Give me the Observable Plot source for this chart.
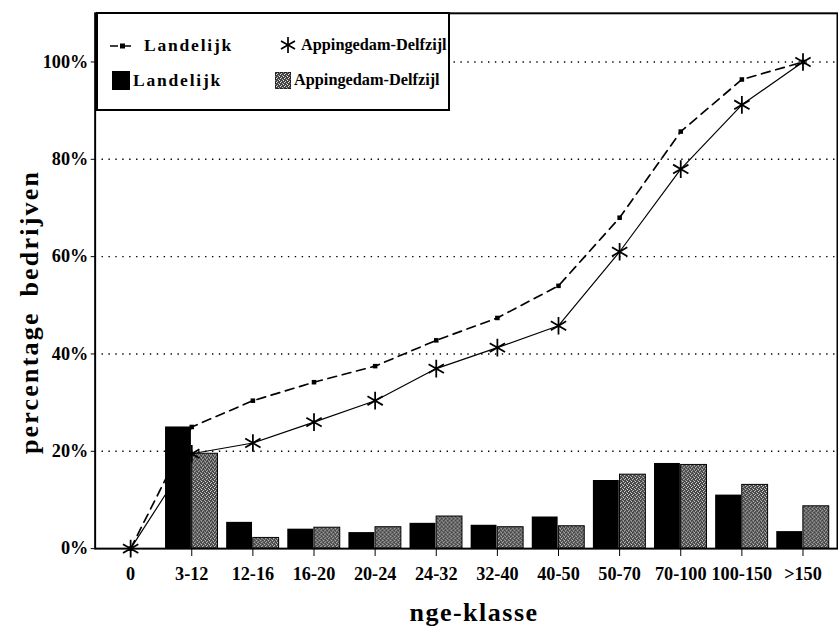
<!DOCTYPE html>
<html><head><meta charset="utf-8">
<script src="https://cdn.jsdelivr.net/npm/d3@7"></script>
<script src="https://cdn.jsdelivr.net/npm/@observablehq/plot@0.6"></script>
<style>
html,body{margin:0;padding:0;background:#fff;overflow:hidden;}
#wrap{position:relative;width:838px;height:632px;overflow:hidden;font-family:"Liberation Serif","Times New Roman",serif;font-weight:bold;}
#wrap svg.plot{position:absolute;left:0;top:0;}
.t{position:absolute;white-space:nowrap;color:#000;}
#legend{position:absolute;left:96px;top:12px;width:354px;height:99px;border:2px solid #000;background:#fff;box-sizing:border-box;}
#legend .item{position:absolute;display:flex;align-items:center;font-size:17.5px;white-space:nowrap;}
#legend svg{display:block;}
</style></head><body><div id="wrap"></div>
<script>
// ---- data ----
const categories = ["0","3-12","12-16","16-20","20-24","24-32","32-40","40-50","50-70","70-100","100-150",">150"];
const landelijkShare   = [0, 25, 5.4, 4.0, 3.3, 5.2, 4.8, 6.5, 14.0, 17.5, 11.0, 3.5];
const appingedamShare  = [0, 19.5, 2.2, 4.3, 4.4, 6.6, 4.4, 4.6, 15.2, 17.2, 13.1, 8.7];
const landelijkCum     = [0, 25, 30.4, 34.2, 37.5, 42.8, 47.4, 54.0, 68.0, 85.7, 96.4, 100];
const appingedamCum    = [0, 19.5, 21.7, 26.0, 30.4, 37.0, 41.3, 45.8, 61.0, 78.0, 91.2, 100];
const yTicks = [0, 20, 40, 60, 80, 100];
const gridTicks = [20, 40, 60, 80, 100];
const seriesNames = ["Landelijk", "Appingedam-Delfzijl"];

const rows = (vals) => categories.map((c, i) => ({cat: c, v: vals[i]}));

// ---- layout ----
const W = 850, H = 632, mL = 96, mR = 1, mT = 13, mB = 76;
const band = (W - mL - mR) / categories.length;
const barW = band * 0.43;

const FONT = '"Liberation Serif", "Times New Roman", serif';

const svg = Plot.plot({
  width: W, height: H,
  marginLeft: mL, marginRight: mR, marginTop: mT, marginBottom: mB,
  style: {fontFamily: FONT, fontSize: "18.5px", fontWeight: "bold", color: "#000", background: "transparent", overflow: "visible"},
  x: {type: "band", domain: categories, padding: 0, label: null},
  y: {domain: [0, 110], label: null},
  marks: [
    Plot.ruleY(gridTicks, {stroke: "#000", strokeWidth: 1.4, strokeDasharray: "1.4,5.6"}),
    Plot.barY(rows(landelijkShare), {x: "cat", y: "v", fill: "#000",
      insetLeft: band / 2 - barW, insetRight: band / 2}),
    Plot.barY(rows(appingedamShare), {x: "cat", y: "v", fill: "url(#stip)", stroke: "#000", strokeWidth: 1,
      insetLeft: band / 2, insetRight: band / 2 - barW}),
    Plot.line(rows(landelijkCum), {x: "cat", y: "v", stroke: "#000", strokeWidth: 1.7, strokeDasharray: "9,6"}),
    Plot.dot(rows(landelijkCum), {x: "cat", y: "v", symbol: "square", r: 2.6, fill: "#000", stroke: "none"}),
    Plot.line(rows(appingedamCum), {x: "cat", y: "v", stroke: "#000", strokeWidth: 1.2}),
    Plot.dot(rows(appingedamCum), {x: "cat", y: "v", symbol: "asterisk", r: 8.5, stroke: "#000", strokeWidth: 1.8}),
    Plot.axisY({ticks: yTicks, tickFormat: d => d + "%", tickSize: 4, tickPadding: 3, label: null, fontSize: 18.5}),
    Plot.axisX({tickSize: 8, tickPadding: 11, label: null, fontSize: 18.5}),
    Plot.frame({stroke: "#000", strokeWidth: 2})
  ]
});
svg.classList.add("plot");
d3.select(svg).insert("defs", ":first-child").html(`
  <pattern id="stip" width="4" height="4" patternUnits="userSpaceOnUse">
    <rect width="4" height="4" fill="#444"/>
    <rect x="0" y="0" width="1" height="1" fill="#f2f2f2"/>
    <rect x="2" y="1" width="1" height="1" fill="#cfcfcf"/>
    <rect x="1" y="2" width="1" height="1" fill="#e6e6e6"/>
    <rect x="3" y="3" width="1" height="1" fill="#bdbdbd"/>
  </pattern>`);

const wrap = document.getElementById("wrap");
wrap.appendChild(svg);

// ---- legend ----
const legend = document.createElement("div");
legend.id = "legend";
legend.innerHTML = `
  <div class="item" style="left:10px;top:21px;">
    <svg width="28" height="10"><line x1="2" y1="5" x2="26" y2="5" stroke="#000" stroke-width="1.7" stroke-dasharray="8,5"/><rect x="12" y="2.5" width="5" height="5" fill="#000"/></svg>
    <span style="margin-left:8px;letter-spacing:1.8px">${seriesNames[0]}</span></div>
  <div class="item" style="left:181px;top:21px;">
    <svg width="18" height="18"><g stroke="#000" stroke-width="1.7"><line x1="9" y1="1" x2="9" y2="17"/><line x1="2" y1="5" x2="16" y2="13"/><line x1="2" y1="13" x2="16" y2="5"/></g></svg>
    <span style="margin-left:4px;font-size:16.3px">${seriesNames[1]}</span></div>
  <div class="item" style="left:14px;top:56px;">
    <svg width="18" height="19"><rect width="18" height="19" fill="#000"/></svg>
    <span style="margin-left:3px;letter-spacing:1.8px">${seriesNames[0]}</span></div>
  <div class="item" style="left:177px;top:56px;">
    <svg width="16" height="17"><rect width="16" height="17" fill="url(#stip)" stroke="#000" stroke-width="1"/></svg>
    <span style="margin-left:3px;font-size:16.3px">${seriesNames[1]}</span></div>`;
wrap.appendChild(legend);

// ---- axis titles ----
const xt = document.createElement("div");
xt.className = "t";
xt.textContent = "nge-klasse";
xt.style.cssText = "left:474px;top:598px;transform:translateX(-50%);font-size:26px;letter-spacing:1.5px;";
wrap.appendChild(xt);

const yt = document.createElement("div");
yt.className = "t";
yt.textContent = "percentage bedrijven";
yt.style.cssText = "left:30px;top:312px;transform:translate(-50%,-50%) rotate(-90deg);font-size:26px;letter-spacing:2.2px;word-spacing:6px;";
wrap.appendChild(yt);
</script>
</body></html>
